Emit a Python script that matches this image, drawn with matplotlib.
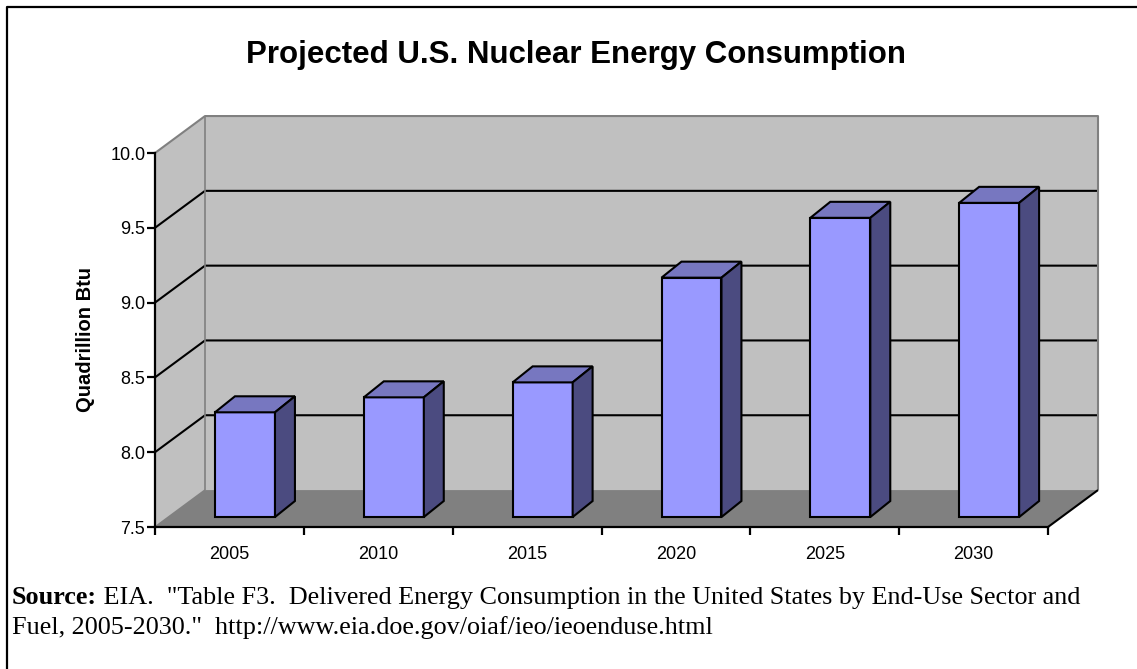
import numpy as np
import matplotlib
matplotlib.use('Agg')
import matplotlib.pyplot as plt
from matplotlib.patches import Polygon

# ---- data ----
years = ['2005', '2010', '2015', '2020', '2025', '2030']
consumption = [8.2, 8.3, 8.4, 9.1, 9.5, 9.6]   # quadrillion Btu
y_ticks = [7.5, 8.0, 8.5, 9.0, 9.5, 10.0]

y_min, y_max = 7.5, 10.0
n = len(years)

# 3D look: offsets of the back wall and of the bars, in data units
wall_dx, wall_dy = 0.336, 0.247
front_f = 0.27                 # depth of the bar front faces (fraction of wall)
bar_dx, bar_dy = 0.134, 0.107
bar_w = 0.403

wall_col = '#c0c0c0'
floor_col = '#808080'
edge_col = '#808080'
front_col = '#9999ff'
top_col = '#7777c0'
side_col = '#4b4b80'

fig = plt.figure(figsize=(11.37, 6.69), dpi=100)
ax = fig.add_axes([155 / 1137, 142 / 669, 893 / 1137, 374 / 669])
ax.set_xlim(0, n)
ax.set_ylim(y_min, y_max)
ax.patch.set_visible(False)


def poly(pts, fc, z, ec='none', lw=0):
    p = Polygon(pts, closed=True, facecolor=fc, edgecolor=ec, linewidth=lw,
                zorder=z, clip_on=False, joinstyle='miter')
    ax.add_patch(p)


def line(xs, ys, c, lw, z):
    ax.plot(xs, ys, color=c, linewidth=lw, zorder=z, clip_on=False,
            solid_capstyle='butt')


# back wall
poly([(wall_dx, y_min + wall_dy), (n + wall_dx, y_min + wall_dy),
      (n + wall_dx, y_max + wall_dy), (wall_dx, y_max + wall_dy)], wall_col, 1)
# left wall
poly([(0, y_min), (wall_dx, y_min + wall_dy),
      (wall_dx, y_max + wall_dy), (0, y_max)], wall_col, 1)

# gridlines on back and left wall
for v in y_ticks[1:-1]:
    line([0, wall_dx, n + wall_dx], [v, v + wall_dy, v + wall_dy], 'black', 1.5, 2)

# wall edges
line([0, wall_dx, n + wall_dx, n + wall_dx],
     [y_max, y_max + wall_dy, y_max + wall_dy, y_min + wall_dy], edge_col, 1.5, 2)
line([wall_dx, wall_dx], [y_min + wall_dy, y_max + wall_dy], edge_col, 1.2, 2)

# floor
poly([(0, y_min), (n, y_min), (n + wall_dx, y_min + wall_dy),
      (wall_dx, y_min + wall_dy)], floor_col, 3)
line([0, wall_dx], [y_min, y_min + wall_dy], edge_col, 1.2, 3)
line([n, n + wall_dx], [y_min, y_min + wall_dy], 'black', 1.5, 3)

# bars
x_front = np.arange(n) + 0.5 + front_f * wall_dx + 0.014
base = y_min + front_f * wall_dy
heights = np.array(consumption) - y_min
ax.bar(x_front, heights, width=bar_w, bottom=base, color=front_col,
       edgecolor='black', linewidth=1.5, zorder=5, clip_on=False)
for xc, h in zip(x_front, heights):
    x0, x1 = xc - bar_w / 2, xc + bar_w / 2
    top = base + h
    poly([(x0, top), (x1, top), (x1 + bar_dx, top + bar_dy),
          (x0 + bar_dx, top + bar_dy)], top_col, 5, 'black', 1.5)
    poly([(x1, base), (x1 + bar_dx, base + bar_dy),
          (x1 + bar_dx, top + bar_dy), (x1, top)], side_col, 5, 'black', 1.5)

# axes
for s in ['top', 'right']:
    ax.spines[s].set_visible(False)
for s in ['left', 'bottom']:
    ax.spines[s].set_linewidth(1.6)
    ax.spines[s].set_zorder(6)

ax.set_yticks(y_ticks)
ax.set_yticklabels([f'{v:.1f}' for v in y_ticks])
ax.set_xticks(np.arange(n + 1))
ax.set_xticklabels([])
ax.set_xticks(np.arange(n) + 0.5, minor=True)
ax.set_xticklabels(years, minor=True)
ax.tick_params(axis='y', direction='out', length=6, width=1.6, pad=1,
               labelsize=13)
ax.tick_params(axis='x', which='major', direction='out', length=6, width=1.6)
ax.tick_params(axis='x', which='minor', length=0, pad=14, labelsize=13)
for lbl in ax.get_xticklabels(minor=True) + ax.get_yticklabels():
    lbl.set_fontfamily('Liberation Sans')

ax.set_ylabel('Quadrillion Btu', fontsize=14.5, fontweight='bold',
              fontfamily='Liberation Sans')
ax.yaxis.set_label_coords(-60 / 893, 0.5)

fig.text(576 / 1137, 1 - 55 / 669, 'Projected U.S. Nuclear Energy Consumption',
         ha='center', va='center', fontsize=22.5, fontweight='bold',
         fontfamily='Liberation Sans')

# source note
src = fig.text(12 / 1137, 1 - 604 / 669, 'Source:', fontsize=18.8,
               fontweight='bold', fontfamily='Liberation Serif')
ax.annotate(' EIA.  "Table F3.  Delivered Energy Consumption in the United '
            'States by End-Use Sector and', xy=(1, 0), xycoords=src,
            ha='left', va='bottom', fontsize=18.8, fontfamily='Liberation Serif')
fig.text(12 / 1137, 1 - 634 / 669,
         'Fuel, 2005-2030."  http://www.eia.doe.gov/oiaf/ieo/ieoenduse.html',
         fontsize=18.8, fontfamily='Liberation Serif')

# frame around the chart
fig.add_artist(plt.Line2D([7 / 1137, 7 / 1137, 1], [0, 1 - 7 / 669, 1 - 7 / 669],
                          transform=fig.transFigure, color='black', linewidth=1.6))

fig.savefig('out.png', dpi=100)
